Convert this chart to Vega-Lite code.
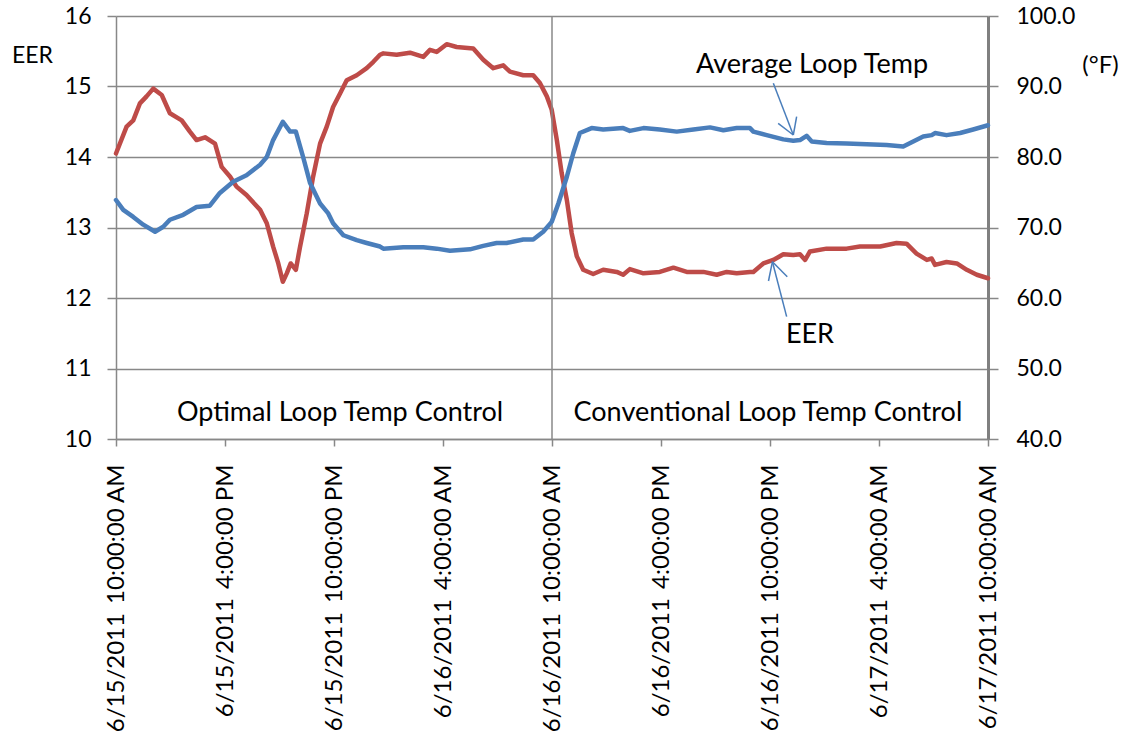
{
  "$schema": "https://vega.github.io/schema/vega-lite/v6.json",
  "width": 872,
  "height": 423,
  "autosize": {"type": "none"},
  "padding": {"left": 116, "top": 16, "right": 136, "bottom": 293},
  "background": "white",
  "config": {"font": "Lato", "view": {"stroke": null}},
  "datasets": {
    "eer": [
      {"t": "2011-06-15T10:00", "v": 14.05}, {"t": "2011-06-15T10:35", "v": 14.43}, {"t": "2011-06-15T10:57", "v": 14.52},
      {"t": "2011-06-15T11:19", "v": 14.76}, {"t": "2011-06-15T11:41", "v": 14.86}, {"t": "2011-06-15T12:03", "v": 14.97},
      {"t": "2011-06-15T12:31", "v": 14.88}, {"t": "2011-06-15T12:58", "v": 14.62}, {"t": "2011-06-15T13:37", "v": 14.52},
      {"t": "2011-06-15T14:04", "v": 14.36}, {"t": "2011-06-15T14:26", "v": 14.24}, {"t": "2011-06-15T14:54", "v": 14.28},
      {"t": "2011-06-15T15:27", "v": 14.19}, {"t": "2011-06-15T15:49", "v": 13.86}, {"t": "2011-06-15T16:17", "v": 13.72},
      {"t": "2011-06-15T16:38", "v": 13.58}, {"t": "2011-06-15T17:11", "v": 13.46}, {"t": "2011-06-15T17:56", "v": 13.25},
      {"t": "2011-06-15T18:18", "v": 13.06}, {"t": "2011-06-15T18:39", "v": 12.73}, {"t": "2011-06-15T18:56", "v": 12.49},
      {"t": "2011-06-15T19:11", "v": 12.23}, {"t": "2011-06-15T19:24", "v": 12.35}, {"t": "2011-06-15T19:37", "v": 12.49},
      {"t": "2011-06-15T19:54", "v": 12.40}, {"t": "2011-06-15T20:08", "v": 12.73}, {"t": "2011-06-15T20:30", "v": 13.20},
      {"t": "2011-06-15T20:51", "v": 13.72}, {"t": "2011-06-15T21:14", "v": 14.19}, {"t": "2011-06-15T21:36", "v": 14.43},
      {"t": "2011-06-15T21:57", "v": 14.71}, {"t": "2011-06-15T22:20", "v": 14.90}, {"t": "2011-06-15T22:42", "v": 15.09},
      {"t": "2011-06-15T23:15", "v": 15.16}, {"t": "2011-06-15T23:48", "v": 15.26}, {"t": "2011-06-16T00:10", "v": 15.35},
      {"t": "2011-06-16T00:32", "v": 15.45}, {"t": "2011-06-16T00:43", "v": 15.47}, {"t": "2011-06-16T01:27", "v": 15.45},
      {"t": "2011-06-16T02:11", "v": 15.48}, {"t": "2011-06-16T02:55", "v": 15.42}, {"t": "2011-06-16T03:17", "v": 15.52},
      {"t": "2011-06-16T03:39", "v": 15.49}, {"t": "2011-06-16T04:12", "v": 15.60}, {"t": "2011-06-16T04:45", "v": 15.56},
      {"t": "2011-06-16T05:40", "v": 15.54}, {"t": "2011-06-16T06:13", "v": 15.38}, {"t": "2011-06-16T06:46", "v": 15.26},
      {"t": "2011-06-16T07:19", "v": 15.30}, {"t": "2011-06-16T07:41", "v": 15.21}, {"t": "2011-06-16T08:25", "v": 15.16},
      {"t": "2011-06-16T08:58", "v": 15.16}, {"t": "2011-06-16T09:20", "v": 15.05}, {"t": "2011-06-16T09:43", "v": 14.86},
      {"t": "2011-06-16T09:59", "v": 14.67}, {"t": "2011-06-16T10:16", "v": 14.24}, {"t": "2011-06-16T10:32", "v": 13.77},
      {"t": "2011-06-16T10:49", "v": 13.39}, {"t": "2011-06-16T11:05", "v": 12.92}, {"t": "2011-06-16T11:22", "v": 12.59},
      {"t": "2011-06-16T11:43", "v": 12.40}, {"t": "2011-06-16T12:16", "v": 12.34}, {"t": "2011-06-16T12:49", "v": 12.40},
      {"t": "2011-06-16T13:34", "v": 12.37}, {"t": "2011-06-16T13:55", "v": 12.33}, {"t": "2011-06-16T14:17", "v": 12.41},
      {"t": "2011-06-16T15:02", "v": 12.35}, {"t": "2011-06-16T15:56", "v": 12.37}, {"t": "2011-06-16T16:41", "v": 12.43},
      {"t": "2011-06-16T17:25", "v": 12.37}, {"t": "2011-06-16T18:20", "v": 12.37}, {"t": "2011-06-16T19:04", "v": 12.33},
      {"t": "2011-06-16T19:37", "v": 12.37}, {"t": "2011-06-16T20:10", "v": 12.35}, {"t": "2011-06-16T20:54", "v": 12.37},
      {"t": "2011-06-16T21:05", "v": 12.37}, {"t": "2011-06-16T21:38", "v": 12.49}, {"t": "2011-06-16T22:11", "v": 12.54},
      {"t": "2011-06-16T22:44", "v": 12.62}, {"t": "2011-06-16T23:17", "v": 12.61}, {"t": "2011-06-16T23:39", "v": 12.62},
      {"t": "2011-06-16T23:56", "v": 12.54}, {"t": "2011-06-17T00:12", "v": 12.66}, {"t": "2011-06-17T01:07", "v": 12.70},
      {"t": "2011-06-17T02:13", "v": 12.70}, {"t": "2011-06-17T02:57", "v": 12.73}, {"t": "2011-06-17T04:04", "v": 12.73},
      {"t": "2011-06-17T04:58", "v": 12.78}, {"t": "2011-06-17T05:31", "v": 12.77}, {"t": "2011-06-17T06:04", "v": 12.63},
      {"t": "2011-06-17T06:38", "v": 12.54}, {"t": "2011-06-17T06:54", "v": 12.56}, {"t": "2011-06-17T07:05", "v": 12.47},
      {"t": "2011-06-17T07:43", "v": 12.51}, {"t": "2011-06-17T08:17", "v": 12.49}, {"t": "2011-06-17T08:50", "v": 12.40},
      {"t": "2011-06-17T09:23", "v": 12.33}, {"t": "2011-06-17T10:00", "v": 12.28}
    ],
    "temp": [
      {"t": "2011-06-15T10:00", "v": 73.9}, {"t": "2011-06-15T10:24", "v": 72.5}, {"t": "2011-06-15T10:57", "v": 71.5},
      {"t": "2011-06-15T11:30", "v": 70.4}, {"t": "2011-06-15T12:09", "v": 69.4}, {"t": "2011-06-15T12:36", "v": 70.1},
      {"t": "2011-06-15T12:58", "v": 71.1}, {"t": "2011-06-15T13:42", "v": 71.8}, {"t": "2011-06-15T14:26", "v": 72.9},
      {"t": "2011-06-15T15:10", "v": 73.1}, {"t": "2011-06-15T15:43", "v": 74.9}, {"t": "2011-06-15T16:27", "v": 76.5},
      {"t": "2011-06-15T17:11", "v": 77.4}, {"t": "2011-06-15T17:56", "v": 78.9}, {"t": "2011-06-15T18:18", "v": 80.0},
      {"t": "2011-06-15T18:39", "v": 82.4}, {"t": "2011-06-15T19:11", "v": 85.0}, {"t": "2011-06-15T19:35", "v": 83.6},
      {"t": "2011-06-15T19:54", "v": 83.6}, {"t": "2011-06-15T20:18", "v": 80.0}, {"t": "2011-06-15T20:41", "v": 76.3},
      {"t": "2011-06-15T21:14", "v": 73.4}, {"t": "2011-06-15T21:41", "v": 72.0}, {"t": "2011-06-15T21:57", "v": 70.6},
      {"t": "2011-06-15T22:31", "v": 68.9}, {"t": "2011-06-15T23:15", "v": 68.2}, {"t": "2011-06-15T23:48", "v": 67.8},
      {"t": "2011-06-16T00:32", "v": 67.3}, {"t": "2011-06-16T00:43", "v": 67.0}, {"t": "2011-06-16T01:49", "v": 67.2},
      {"t": "2011-06-16T02:55", "v": 67.2}, {"t": "2011-06-16T03:39", "v": 67.0}, {"t": "2011-06-16T04:23", "v": 66.7},
      {"t": "2011-06-16T05:29", "v": 66.9}, {"t": "2011-06-16T06:13", "v": 67.4}, {"t": "2011-06-16T06:57", "v": 67.8},
      {"t": "2011-06-16T07:30", "v": 67.8}, {"t": "2011-06-16T08:25", "v": 68.3}, {"t": "2011-06-16T08:58", "v": 68.3},
      {"t": "2011-06-16T09:31", "v": 69.4}, {"t": "2011-06-16T09:59", "v": 70.8}, {"t": "2011-06-16T10:21", "v": 73.4},
      {"t": "2011-06-16T10:49", "v": 77.2}, {"t": "2011-06-16T11:10", "v": 80.5}, {"t": "2011-06-16T11:32", "v": 83.4},
      {"t": "2011-06-16T12:11", "v": 84.1}, {"t": "2011-06-16T12:49", "v": 83.9}, {"t": "2011-06-16T13:55", "v": 84.1},
      {"t": "2011-06-16T14:17", "v": 83.7}, {"t": "2011-06-16T15:02", "v": 84.1}, {"t": "2011-06-16T15:56", "v": 83.9},
      {"t": "2011-06-16T16:52", "v": 83.6}, {"t": "2011-06-16T17:47", "v": 83.9}, {"t": "2011-06-16T18:42", "v": 84.2},
      {"t": "2011-06-16T19:26", "v": 83.8}, {"t": "2011-06-16T20:10", "v": 84.1}, {"t": "2011-06-16T20:54", "v": 84.1},
      {"t": "2011-06-16T21:05", "v": 83.6}, {"t": "2011-06-16T21:49", "v": 83.1}, {"t": "2011-06-16T22:44", "v": 82.5},
      {"t": "2011-06-16T23:17", "v": 82.3}, {"t": "2011-06-16T23:39", "v": 82.4}, {"t": "2011-06-17T00:01", "v": 83.0},
      {"t": "2011-06-17T00:18", "v": 82.2}, {"t": "2011-06-17T01:07", "v": 82.0}, {"t": "2011-06-17T02:13", "v": 81.9},
      {"t": "2011-06-17T03:19", "v": 81.8}, {"t": "2011-06-17T04:25", "v": 81.7}, {"t": "2011-06-17T05:20", "v": 81.5},
      {"t": "2011-06-17T05:53", "v": 82.2}, {"t": "2011-06-17T06:26", "v": 82.9}, {"t": "2011-06-17T06:54", "v": 83.1},
      {"t": "2011-06-17T07:05", "v": 83.4}, {"t": "2011-06-17T07:43", "v": 83.1}, {"t": "2011-06-17T08:28", "v": 83.4},
      {"t": "2011-06-17T09:11", "v": 83.9}, {"t": "2011-06-17T10:00", "v": 84.5}
    ],
    "notes": [
      {"t": "2011-06-15T22:20", "v": 10.37, "label": "Optimal Loop Temp Control"},
      {"t": "2011-06-16T21:53", "v": 10.37, "label": "Conventional Loop Temp Control"},
      {"t": "2011-06-17T00:19", "v": 15.30, "label": "Average Loop Temp"},
      {"t": "2011-06-17T00:12", "v": 11.475, "label": "EER"}
    ],
    "arrows": [
      {"t": "2011-06-16T22:11", "v": 15.045, "t2": "2011-06-16T23:17", "v2": 14.312},
      {"t": "2011-06-16T22:27", "v": 14.478, "t2": "2011-06-16T23:17", "v2": 14.312},
      {"t": "2011-06-16T23:28", "v": 14.572, "t2": "2011-06-16T23:17", "v2": 14.312},
      {"t": "2011-06-16T22:55", "v": 11.735, "t2": "2011-06-16T22:08", "v2": 12.515},
      {"t": "2011-06-16T21:55", "v": 12.241, "t2": "2011-06-16T22:08", "v2": 12.515},
      {"t": "2011-06-16T22:57", "v": 12.302, "t2": "2011-06-16T22:08", "v2": 12.515}
    ]
  },
  "encoding": {
    "x": {
      "field": "t",
      "type": "temporal",
      "scale": {
        "domain": [{"year": 2011, "month": 6, "date": 15, "hours": 10}, {"year": 2011, "month": 6, "date": 17, "hours": 10}],
        "nice": false
      },
      "axis": {
        "title": null,
        "values": [
          {"year": 2011, "month": 6, "date": 15, "hours": 10}, {"year": 2011, "month": 6, "date": 15, "hours": 16},
          {"year": 2011, "month": 6, "date": 15, "hours": 22}, {"year": 2011, "month": 6, "date": 16, "hours": 4},
          {"year": 2011, "month": 6, "date": 16, "hours": 10}, {"year": 2011, "month": 6, "date": 16, "hours": 16},
          {"year": 2011, "month": 6, "date": 16, "hours": 22}, {"year": 2011, "month": 6, "date": 17, "hours": 4},
          {"year": 2011, "month": 6, "date": 17, "hours": 10}
        ],
        "labelExpr": "timeFormat(datum.value, '%-m/%-d/%Y') + (datum.value >= time(datetime(2011,5,17,10)) ? ' ' : ' \u2009') + timeFormat(datum.value, '%-I:%M:%S %p')",
        "labelAngle": -90,
        "labelAlign": "right",
        "labelBaseline": "middle",
        "labelFlush": false,
        "labelOverlap": false,
        "labelLimit": 400,
        "labelFontSize": 24,
        "labelColor": "black",
        "labelPadding": 18,
        "grid": false,
        "domainColor": "#888888",
        "domainWidth": 1.5,
        "tickColor": "#888888",
        "tickWidth": 1.5,
        "tickSize": 7
      }
    }
  },
  "layer": [
    {
      "layer": [
        {
          "data": {"name": "eer"},
          "mark": {"type": "line", "color": "#BE4B48", "strokeWidth": 4.5, "strokeCap": "round", "strokeJoin": "round"},
          "encoding": {
            "y": {
              "field": "v",
              "type": "quantitative",
              "scale": {"domain": [10, 16], "nice": false, "zero": false},
              "axis": {
                "orient": "left",
                "title": "EER",
                "titleAngle": 0,
                "titleX": -84,
                "titleY": 39,
                "titleAlign": "center",
                "titleBaseline": "middle",
                "titleFontSize": 23,
                "titleFontWeight": "normal",
                "titleColor": "black",
                "values": [10, 11, 12, 13, 14, 15, 16],
                "format": "d",
                "labelFontSize": 23,
                "labelColor": "black",
                "labelPadding": 16,
                "grid": true,
                "gridColor": "#888888",
                "gridWidth": 1.5,
                "domainColor": "#888888",
                "domainWidth": 1.5,
                "tickColor": "#888888",
                "tickWidth": 1.5,
                "tickSize": 9
              }
            }
          }
        },
        {
          "data": {"values": [{"t": "2011-06-16T10:00"}]},
          "mark": {"type": "rule", "color": "#888888", "strokeWidth": 1.5},
          "encoding": {"x": {"field": "t", "type": "temporal"}}
        },
        {
          "data": {"name": "arrows"},
          "mark": {"type": "rule", "color": "#4A7EBB", "strokeWidth": 1.5},
          "encoding": {
            "y": {"field": "v", "type": "quantitative"},
            "x2": {"field": "t2"},
            "y2": {"field": "v2"}
          }
        },
        {
          "data": {"name": "notes"},
          "mark": {"type": "text", "fontSize": 27, "color": "black", "align": "center", "baseline": "middle"},
          "encoding": {
            "y": {"field": "v", "type": "quantitative"},
            "text": {"field": "label"}
          }
        }
      ]
    },
    {
      "data": {"name": "temp"},
      "mark": {"type": "line", "color": "#4A7EBB", "strokeWidth": 4.5, "strokeCap": "round", "strokeJoin": "round"},
      "encoding": {
        "y": {
          "field": "v",
          "type": "quantitative",
          "scale": {"domain": [40, 100], "nice": false, "zero": false},
          "axis": {
            "orient": "right",
            "title": "(°F)",
            "titleAngle": 0,
            "titleX": 112,
            "titleY": 49,
            "titleAlign": "center",
            "titleBaseline": "middle",
            "titleFontSize": 24,
            "titleFontWeight": "normal",
            "titleColor": "black",
            "values": [40, 50, 60, 70, 80, 90, 100],
            "format": ".1f",
            "labelFontSize": 23,
            "labelColor": "black",
            "labelPadding": 18,
            "grid": false,
            "domainColor": "#808080",
            "domainWidth": 3,
            "tickColor": "#888888",
            "tickWidth": 1.5,
            "tickSize": 10
          }
        }
      }
    }
  ],
  "resolve": {"scale": {"y": "independent"}}
}
